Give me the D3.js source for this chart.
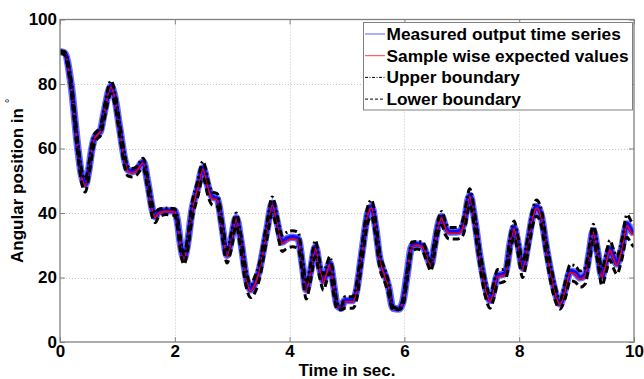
<!DOCTYPE html>
<html>
<head>
<meta charset="utf-8">
<script src="https://cdn.jsdelivr.net/npm/d3@7"></script>
<style>
  html, body { margin: 0; padding: 0; background: #fff; }
  svg text { font-family: "Liberation Sans", Arial, sans-serif; font-weight: bold; fill: #000; }
</style>
</head>
<body>
<div id="chart"></div>
<script>
// time axis (sec.)
const times = [
  0, 0.08, 0.19, 0.31, 0.37, 0.44, 0.50, 0.55, 0.60, 0.66, 0.70, 0.76, 0.89, 0.95,
  1.04, 1.13, 1.18, 1.25, 1.33, 1.45, 1.53, 1.62, 1.66, 1.72, 1.85, 2.00, 2.04, 2.10,
  2.16, 2.22, 2.30, 2.40, 2.49, 2.59, 2.65, 2.74, 2.82, 2.91, 2.98, 3.07, 3.15, 3.24,
  3.32, 3.40, 3.46, 3.60, 3.70, 3.78, 3.87, 3.95, 4.05, 4.15, 4.22, 4.29, 4.36, 4.45,
  4.52, 4.59, 4.64, 4.70, 4.77, 4.83, 4.90, 4.96, 5.10, 5.16, 5.25, 5.37, 5.43, 5.50,
  5.57, 5.66, 5.72, 5.80, 5.90, 5.97, 6.05, 6.13, 6.22, 6.32, 6.40, 6.46, 6.52, 6.59,
  6.65, 6.72, 6.78, 6.90, 6.97, 7.03, 7.14, 7.22, 7.32, 7.42, 7.49, 7.56, 7.62, 7.70,
  7.76, 7.85, 7.91, 7.98, 8.06, 8.15, 8.24, 8.30, 8.38, 8.48, 8.60, 8.71, 8.80, 8.89,
  8.98, 9.06, 9.15, 9.22, 9.29, 9.37, 9.44, 9.52, 9.58, 9.64, 9.70, 9.78, 9.88, 9.95, 10
];

// sample wise expected values
const expected = [
  90, 89.5, 80, 60, 52, 48.5, 53, 59, 63, 64.4, 65, 70, 79, 76,
  66, 56, 53, 52.5, 53, 55.5, 49, 40, 38.5, 40, 40.5, 40.3, 37.8, 30,
  25.5, 30, 40.5, 47.5, 53.5, 47, 44.5, 44, 36, 26.5, 31, 38, 31, 20,
  15.8, 18, 21, 34, 42.5, 37, 30.6, 31.5, 32, 31.5, 24, 15.8, 21, 29,
  23, 18.5, 21, 24, 17, 11, 10.4, 12.5, 12.5, 15, 26, 40, 41.5, 35,
  25.5, 20.5, 17, 10.3, 10.1, 12, 21, 29.5, 30, 29.5, 26, 23.5, 29, 36,
  38.4, 35, 33.7, 33.7, 34, 36, 45, 38, 25.5, 16, 12.5, 16, 20.3, 20.5,
  21, 31, 35, 30, 22.5, 30, 39, 41.5, 39, 28, 17, 11.5, 16, 21.5,
  21, 19.5, 20.5, 27, 34, 27, 20, 25, 28.5, 26, 23.8, 28, 36, 34, 33
];

// measured output time series
const measured = [
  90, 89.6, 80.3, 60.2, 52.3, 48.8, 53.2, 59.3, 63.3, 64.7, 65.2, 70.3, 79.4, 76.3,
  66.3, 56.3, 53.4, 52.9, 53.4, 55.9, 49.3, 40.3, 38.8, 40.4, 40.8, 40.6, 38.1, 30.3,
  25.9, 30.3, 40.9, 47.9, 54, 47.5, 45, 44.4, 36.4, 26.9, 31.4, 38.5, 31.4, 20.4,
  16.2, 18.4, 21.4, 34.4, 43, 37.5, 31, 32, 32.5, 32, 24.4, 16.2, 21.4, 29.5,
  23.4, 18.9, 21.4, 24.5, 17.4, 11.3, 10.5, 12.9, 12.9, 15.4, 26.4, 40.4, 42, 35.4,
  25.9, 20.9, 17.4, 10.5, 10.2, 12.3, 21.3, 29.8, 30.3, 29.8, 26.3, 23.8, 29.4, 36.4,
  38.9, 35.4, 34.1, 34.1, 34.4, 36.4, 45.5, 38.4, 25.9, 16.4, 12.9, 16.4, 20.7, 20.9,
  21.4, 31.4, 35.5, 30.4, 22.9, 30.4, 39.5, 42, 39.5, 28.4, 17.4, 11.8, 16.4, 21.9,
  21.4, 19.9, 20.9, 27.4, 34.5, 27.4, 20.4, 25.5, 29, 26.4, 24.2, 28.5, 36.6, 34.6, 33.6
];

// upper boundary
const upper = [
  90.3, 90, 81.5, 62, 54, 50.5, 55, 61, 64.5, 65.6, 66.2, 71.8, 81, 78,
  68, 58, 54.5, 53.8, 54.3, 57, 51, 42, 40, 41.2, 41.5, 41.3, 39.3, 32,
  27, 32, 43, 50, 56, 49.5, 46.5, 46, 38.5, 28.5, 33.5, 40, 33.5, 22.5,
  17.8, 20.5, 23.5, 36.5, 45, 39.5, 33.1, 34, 34.5, 34, 26.5, 18.3, 23.5, 31.5,
  25.5, 21, 23.5, 26.5, 19.5, 12, 11, 14, 14, 17.5, 28.5, 42.5, 44, 37.5,
  28, 22.5, 19, 11, 10.3, 13, 22.5, 31, 31.2, 31, 27.5, 25, 31, 38,
  40.5, 37, 35.5, 35.5, 35.8, 38.5, 47.5, 40.5, 28, 18.5, 14.5, 18.5, 22.5, 22.5,
  23, 33.5, 37.5, 32.5, 25, 32.5, 41.5, 44, 41.5, 30.5, 19.5, 13, 18.5, 24,
  23.5, 22, 23, 29.5, 36.5, 29.5, 22.5, 28, 31.5, 29, 26.5, 31, 39.5, 37.5, 36.5
];

// lower boundary
const lower = [
  89.7, 89, 78.5, 58, 50, 46.5, 51, 57, 61.5, 63.2, 63.8, 68.2, 77, 74,
  64, 54, 51.5, 51.2, 51.7, 54, 47, 38, 37, 38.8, 39.5, 39.3, 36.3, 28,
  24, 28, 38, 45, 51, 44.5, 42.5, 42, 33.5, 24.5, 28.5, 36, 28.5, 17.5,
  13.8, 15.5, 18.5, 31.5, 40, 34.5, 28.1, 29, 29.5, 29, 21.5, 13.3, 18.5, 26.5,
  20.5, 16, 18.5, 21.5, 14.5, 10, 10, 10.5, 10.5, 12.5, 23.5, 37.5, 39, 32.5,
  23, 18.5, 15, 10, 10, 11, 19.5, 28, 28.8, 28, 24.5, 22, 27, 34,
  36.3, 33, 31.9, 31.9, 32.2, 33.5, 42.5, 35.5, 23, 13.5, 10.5, 13.5, 18, 18.5,
  19, 28.5, 32.5, 27.5, 20, 27.5, 36.5, 39, 36.5, 25.5, 14.5, 10.2, 13.5, 19,
  18.5, 17, 18, 24.5, 31.5, 24.5, 17.5, 22, 25.5, 23, 21, 25, 32.5, 30.5, 29.5
];

const xTicks = [0, 2, 4, 6, 8, 10];
const yTicks = [0, 20, 40, 60, 80, 100];
const legendLabels = [
  'Measured output time series',
  'Sample wise expected values',
  'Upper boundary',
  'Lower boundary',
];

const width = 644;
const height = 379;
const margin = { top: 19.5, right: 10, bottom: 37, left: 60 };

const svg = d3
  .select('#chart')
  .append('svg')
  .attr('width', width)
  .attr('height', height);

const x = d3.scaleLinear().domain([0, 10]).range([margin.left, width - margin.right]);
const y = d3.scaleLinear().domain([0, 100]).range([height - margin.bottom, margin.top]);

const x0 = x.range()[0], x1 = x.range()[1];
const y0 = y.range()[0], y1 = y.range()[1];

svg.append('defs').append('clipPath').attr('id', 'plot-clip')
  .append('rect')
  .attr('x', x0).attr('y', y1)
  .attr('width', x1 - x0).attr('height', y0 - y1);

// grid
const grid = svg.append('g').attr('stroke', '#c8c8c8').attr('stroke-dasharray', '1,2').attr('stroke-width', 1);
grid.selectAll('.vg').data(xTicks.slice(1, -1)).enter().append('line')
  .attr('x1', (d) => Math.round(x(d)) + 0.5).attr('x2', (d) => Math.round(x(d)) + 0.5)
  .attr('y1', y1).attr('y2', y0);
grid.selectAll('.hg').data(yTicks.slice(1, -1)).enter().append('line')
  .attr('y1', (d) => Math.round(y(d)) + 0.5).attr('y2', (d) => Math.round(y(d)) + 0.5)
  .attr('x1', x0).attr('x2', x1);

const pts = times.map((t, i) => i);
const lineOf = (arr) => d3.line()
  .x((i) => x(times[i]))
  .y((i) => y(arr[i]))
  .curve(d3.curveMonotoneX)(pts);

const plot = svg.append('g').attr('clip-path', 'url(#plot-clip)').attr('fill', 'none');

// measured series (blue band)
plot.append('path').attr('d', lineOf(measured))
  .attr('stroke', '#6a6aff').attr('stroke-width', 7.5).attr('stroke-linejoin', 'round');
plot.append('path').attr('d', lineOf(measured))
  .attr('stroke', '#0a0aff').attr('stroke-width', 4.5).attr('stroke-linejoin', 'round');

// expected values
plot.append('path').attr('d', lineOf(expected))
  .attr('stroke', '#ff0000').attr('stroke-width', 1.6).attr('stroke-linejoin', 'round');

// boundaries
plot.append('path').attr('d', lineOf(upper))
  .attr('stroke', '#000').attr('stroke-width', 3).attr('stroke-dasharray', '7,3,2,3');
plot.append('path').attr('d', lineOf(lower))
  .attr('stroke', '#000').attr('stroke-width', 3).attr('stroke-dasharray', '7,4');

// axes box
const axisColor = '#808080';
svg.append('rect')
  .attr('x', x0).attr('y', y1)
  .attr('width', x1 - x0).attr('height', y0 - y1)
  .attr('fill', 'none').attr('stroke', axisColor).attr('stroke-width', 1.3);

// bottom axis
const xAxis = svg.append('g')
  .attr('transform', `translate(0,${y0})`)
  .call(d3.axisBottom(x).tickValues(xTicks).tickSize(-5).tickPadding(8).tickFormat(d3.format('d')));
xAxis.select('.domain').remove();
xAxis.selectAll('.tick line').attr('stroke', axisColor);
xAxis.selectAll('.tick text').style('font-size', '17px').attr('dy', '0.71em').attr('y', 3);

// top ticks
svg.append('g').attr('transform', `translate(0,${y1})`)
  .call(d3.axisTop(x).tickValues(xTicks).tickSize(-5).tickFormat(''))
  .call((g) => g.select('.domain').remove())
  .selectAll('.tick line').attr('stroke', axisColor);

// left axis
const yAxis = svg.append('g')
  .attr('transform', `translate(${x0},0)`)
  .call(d3.axisLeft(y).tickValues(yTicks).tickSize(-5).tickPadding(3).tickFormat(d3.format('d')));
yAxis.select('.domain').remove();
yAxis.selectAll('.tick line').attr('stroke', axisColor);
yAxis.selectAll('.tick text').style('font-size', '17px');

// right ticks
svg.append('g').attr('transform', `translate(${x1},0)`)
  .call(d3.axisRight(y).tickValues(yTicks).tickSize(-5).tickFormat(''))
  .call((g) => g.select('.domain').remove())
  .selectAll('.tick line').attr('stroke', axisColor);

// axis titles
svg.append('text')
  .attr('x', (x0 + x1) / 2).attr('y', 376)
  .attr('text-anchor', 'middle')
  .style('font-size', '17px')
  .text('Time in sec.');

const ylab = svg.append('text')
  .attr('transform', `translate(23,${(y0 + y1) / 2}) rotate(-90)`)
  .attr('text-anchor', 'middle')
  .style('font-size', '17px');
ylab.append('tspan').text('Angular position in ');
ylab.append('tspan').attr('dy', -9).style('font-size', '12px').style('font-weight', 'normal').text('°');

// legend
const legend = svg.append('g');
legend.append('rect')
  .attr('x', 363.5).attr('y', 22.5)
  .attr('width', 269).attr('height', 87.5)
  .attr('fill', '#fff').attr('stroke', axisColor).attr('stroke-width', 1);

const legendStyles = [
  { color: '#6060ff', dash: null },
  { color: '#ff4040', dash: null },
  { color: '#000', dash: '3,1.5,1,1.5' },
  { color: '#000', dash: '3,2' },
];

const item = legend.selectAll('.item').data(legendLabels).enter().append('g')
  .attr('transform', (d, i) => `translate(0,${34 + i * 21.7})`);
item.append('line')
  .attr('x1', 365).attr('x2', 385).attr('y1', 0).attr('y2', 0)
  .attr('stroke', (d, i) => legendStyles[i].color)
  .attr('stroke-width', 1)
  .attr('stroke-dasharray', (d, i) => legendStyles[i].dash);
item.append('text')
  .attr('x', 386.5).attr('y', 0).attr('dy', '0.35em')
  .style('font-size', '17.3px')
  .text((d) => d);
</script>
</body>
</html>
